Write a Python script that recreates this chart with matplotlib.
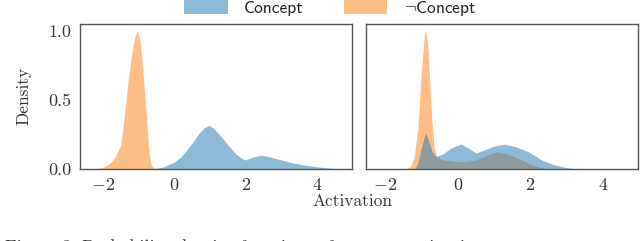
import matplotlib
matplotlib.use("Agg")
import matplotlib.pyplot as plt
from matplotlib.patches import Patch

plt.rcParams["font.family"] = "cmr10"
plt.rcParams["mathtext.fontset"] = "cm"
plt.rcParams["axes.formatter.use_mathtext"] = True
plt.rcParams["axes.unicode_minus"] = True

# densities (activation, density)
left_pos_x = [-0.7, -0.5, -0.3, 0.0, 0.2, 0.45, 0.7, 0.85, 0.97, 1.1, 1.36, 1.55, 1.72, 1.9, 2.0,
              2.2, 2.42, 2.6, 2.83, 3.1, 3.39, 3.7, 3.95, 4.3, 4.7]
left_pos_y = [0.0, 0.004, 0.015, 0.05, 0.09, 0.17, 0.26, 0.30, 0.315, 0.295, 0.22, 0.16, 0.11, 0.075, 0.065,
              0.085, 0.10, 0.092, 0.077, 0.058, 0.04, 0.026, 0.017, 0.007, 0.0]
left_neg_x = [-2.25, -2.0, -1.8, -1.65, -1.5, -1.4, -1.3, -1.2, -1.1, -1.03, -0.95, -0.85, -0.8,
              -0.72, -0.65, -0.55]
left_neg_y = [0.0, 0.01, 0.04, 0.09, 0.17, 0.38, 0.62, 0.82, 0.96, 1.0, 0.92, 0.62, 0.45,
              0.15, 0.03, 0.0]

right_pos_x = [-1.2, -1.1, -1.0, -0.89, -0.8, -0.7, -0.6, -0.4, -0.2, 0.08, 0.3, 0.5, 0.75, 1.0,
               1.28, 1.6, 1.94, 2.1, 2.31, 2.6, 2.86, 3.1, 3.3]
right_pos_y = [0.0, 0.04, 0.16, 0.26, 0.20, 0.12, 0.09, 0.11, 0.15, 0.18, 0.15, 0.115, 0.14, 0.165,
               0.18, 0.16, 0.125, 0.10, 0.065, 0.035, 0.017, 0.005, 0.0]
right_neg_x = [-1.45, -1.3, -1.2, -1.1, -1.0, -0.92, -0.89, -0.84, -0.78, -0.72, -0.65, -0.58, -0.4,
               -0.1, 0.2, 0.5, 0.8, 1.1, 1.35, 1.6, 1.8, 2.0, 2.3, 2.5]
right_neg_y = [0.0, 0.02, 0.09, 0.30, 0.72, 0.98, 1.0, 0.92, 0.65, 0.36, 0.15, 0.085, 0.065,
               0.055, 0.052, 0.065, 0.10, 0.125, 0.11, 0.085, 0.06, 0.035, 0.008, 0.0]

labels = ["Concept", r"$\neg$Concept"]
colors = ["#1f77b4", "#ff7f0e"]
xticks = [-2, 0, 2, 4]
yticks = [0.0, 0.5, 1.0]

fig = plt.figure(figsize=(6.4, 2.41), dpi=100)
ax1 = fig.add_axes([0.125, 0.299, 0.425, 0.602])
ax2 = fig.add_axes([0.572, 0.299, 0.425, 0.602], sharey=ax1)

panels = [
    (ax1, left_pos_x, left_pos_y, left_neg_x, left_neg_y, (-2.64, 4.98)),
    (ax2, right_pos_x, right_pos_y, right_neg_x, right_neg_y, (-2.53, 4.97)),
]
for ax, px, py, nx, ny, xl in panels:
    ax.fill_between(nx, ny, 0, color=colors[1], alpha=0.5, linewidth=0)
    ax.fill_between(px, py, 0, color=colors[0], alpha=0.5, linewidth=0)
    ax.set_xlim(xl)
    ax.set_ylim(0, 1.05)
    ax.set_xticks(xticks)
    ax.tick_params(length=0, labelsize=13, pad=6, colors="#333333")
    for s in ax.spines.values():
        s.set_color("#555555")
        s.set_linewidth(1.0)

ax1.set_yticks(yticks)
ax1.set_yticklabels(["0.0", "0.5", "1.0"])
ax2.tick_params(labelleft=False)
ax1.set_ylabel("Density", fontsize=12.5, color="#333333", labelpad=12)
fig.text(0.55, 0.163, "Activation", ha="center", va="center", fontsize=12.5, color="#333333")

handles = [Patch(facecolor=c, alpha=0.5, edgecolor="none") for c in colors]
leg = fig.legend(handles, labels, loc="center", bbox_to_anchor=(0.516, 0.965), ncol=2,
                 frameon=False, handlelength=2.5, handleheight=0.85, handletextpad=0.95,
                 columnspacing=2.3, prop={"family": "cmss10", "size": 12.5})
for t in leg.get_texts():
    t.set_color("#222222")

fig.text(0.008, 0.008, "Figure 3: Probability density functions of concept activations",
         ha="left", va="top", fontsize=13, color="#333333")

fig.savefig("out.png", dpi=100)
